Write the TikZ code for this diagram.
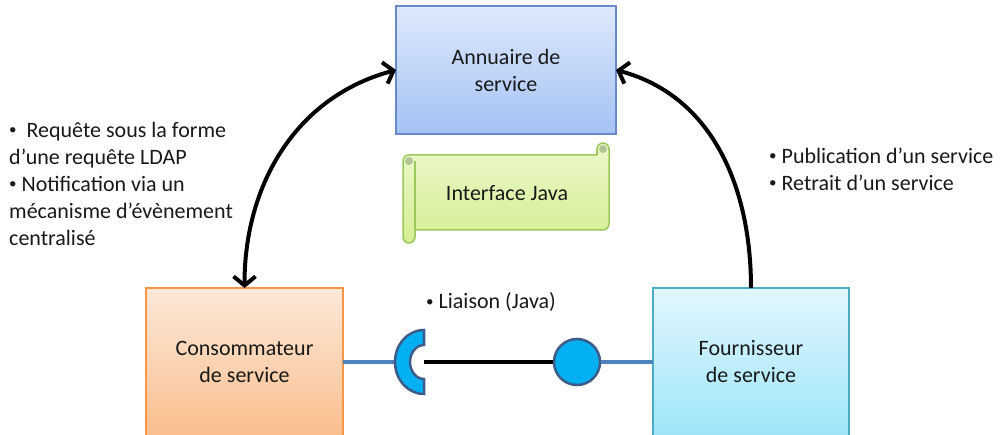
\documentclass[tikz,border=0pt]{standalone}
\usepackage{fontspec}
\setmainfont{Carlito}
\usetikzlibrary{arrows.meta, positioning}
\definecolor{txtgray}{RGB}{25,25,25}
\definecolor{annutop}{RGB}{222,233,252}
\definecolor{annubot}{RGB}{164,194,244}
\definecolor{annudraw}{RGB}{105,138,200}
\definecolor{constop}{RGB}{253,233,217}
\definecolor{consbot}{RGB}{250,190,142}
\definecolor{consdraw}{RGB}{247,150,70}
\definecolor{fourtop}{RGB}{226,247,253}
\definecolor{fourbot}{RGB}{158,229,250}
\definecolor{fourdraw}{RGB}{75,172,198}
\definecolor{scrolltop}{RGB}{236,248,202}
\definecolor{scrollbot}{RGB}{213,238,148}
\definecolor{scrolldraw}{RGB}{155,200,90}
\definecolor{plugfill}{RGB}{0,176,240}
\definecolor{plugdraw}{RGB}{60,92,140}
\definecolor{wireblue}{RGB}{79,129,189}
\newcommand{\puce}{\raisebox{2.5pt}{\fontsize{15}{27}\selectfont\textbullet}}

\begin{document}
\begin{tikzpicture}[
      x=1pt, y=1pt,
      every node/.style={font=\fontsize{22}{27}\selectfont, text=txtgray},
      box/.style={line width=1.5pt, minimum width=197pt, minimum height=148pt,
                  align=center, outer sep=0pt, inner sep=0pt},
      note/.style={align=left, inner sep=0pt, anchor=west},
      flow/.style={-{Straight Barb[length=9pt, width=22pt]}, line width=4pt, black},
      wire/.style={line width=4pt, wireblue},
      plug/.style={fill=plugfill, draw=plugdraw, line width=2.5pt},
    ]

    \path[use as bounding box, clip] (0,0) rectangle (1001,434);

    % Annuaire au centre
    \node[box, draw=annudraw, top color=annutop, bottom color=annubot,
          minimum width=220pt, minimum height=128pt] (annuaire) at (506,364)
      {Annuaire de\\service};

    % Consommateur et fournisseur
    \node[box, draw=consdraw, top color=constop, bottom color=consbot,
          below left=154pt and 53pt of annuaire] (conso)
      {Consommateur\\de service};
    \node[box, draw=fourdraw, top color=fourtop, bottom color=fourbot,
          minimum width=196pt, below right=154pt and 37pt of annuaire] (fourn)
      {Fournisseur\\de service};

    % Parchemin
    \draw[scrolldraw, line width=1.5pt, top color=scrolltop, bottom color=scrollbot]
      (403,273) -- (403,197) arc[start angle=180, end angle=360, radius=6]
      -- (415,204) -- (603,204) arc[start angle=270, end angle=360, radius=6]
      -- (609,285) arc[start angle=0, end angle=180, radius=6]
      -- (597,279) -- (409,279) arc[start angle=90, end angle=180, radius=6] -- cycle;
    \draw[scrolldraw, line width=1.5pt] (415,273) -- (415,204);
    \draw[scrolldraw, line width=1.5pt] (597,279) -- (597,285);
    \fill[scrolldraw!60!gray!70] (409,273) circle[radius=4] (603,285) circle[radius=4];
    \node (iface) at (507,241) {Interface Java};

    % Liaison
    \coordinate (sock) at (424,72);
    \node[minimum size=46pt, circle, plug, inner sep=0pt] (ball) at (577,72) {};
    \draw[wire] (conso.east) -- ++(53,0);
    \draw[wire] (ball) -- (fourn.west);
    \draw[line width=4pt, black] (sock) -- (ball);
    \draw[plug] (sock) ++(0,32) arc[start angle=90, end angle=270, x radius=29, y radius=32]
      -- ++(0,15) arc[start angle=270, end angle=90, x radius=14, y radius=17] -- cycle;
    \node[note] (liaison) at (426,132) {\puce{} Liaison (Java)};

    % Fleches vers l'annuaire
    \draw[flow, {Straight Barb[length=9pt, width=22pt]}-{Straight Barb[length=9pt, width=22pt]}]
      (conso.north) to[out=90, in=195] (annuaire.west);
    \draw[flow] (fourn.north) to[out=90, in=-15] (annuaire.east);

    % Textes
    \node[note] (requete) at (9,250.5)
      {\puce{}\ \ Requête sous la forme\\d’une requête LDAP\\
       \puce{} Notification via un\\mécanisme d’évènement\\centralisé};
    \node[note] (publi) at (769,265)
      {\puce{} Publication d’un service\\\puce{} Retrait d’un service};

  \end{tikzpicture}
\end{document}
